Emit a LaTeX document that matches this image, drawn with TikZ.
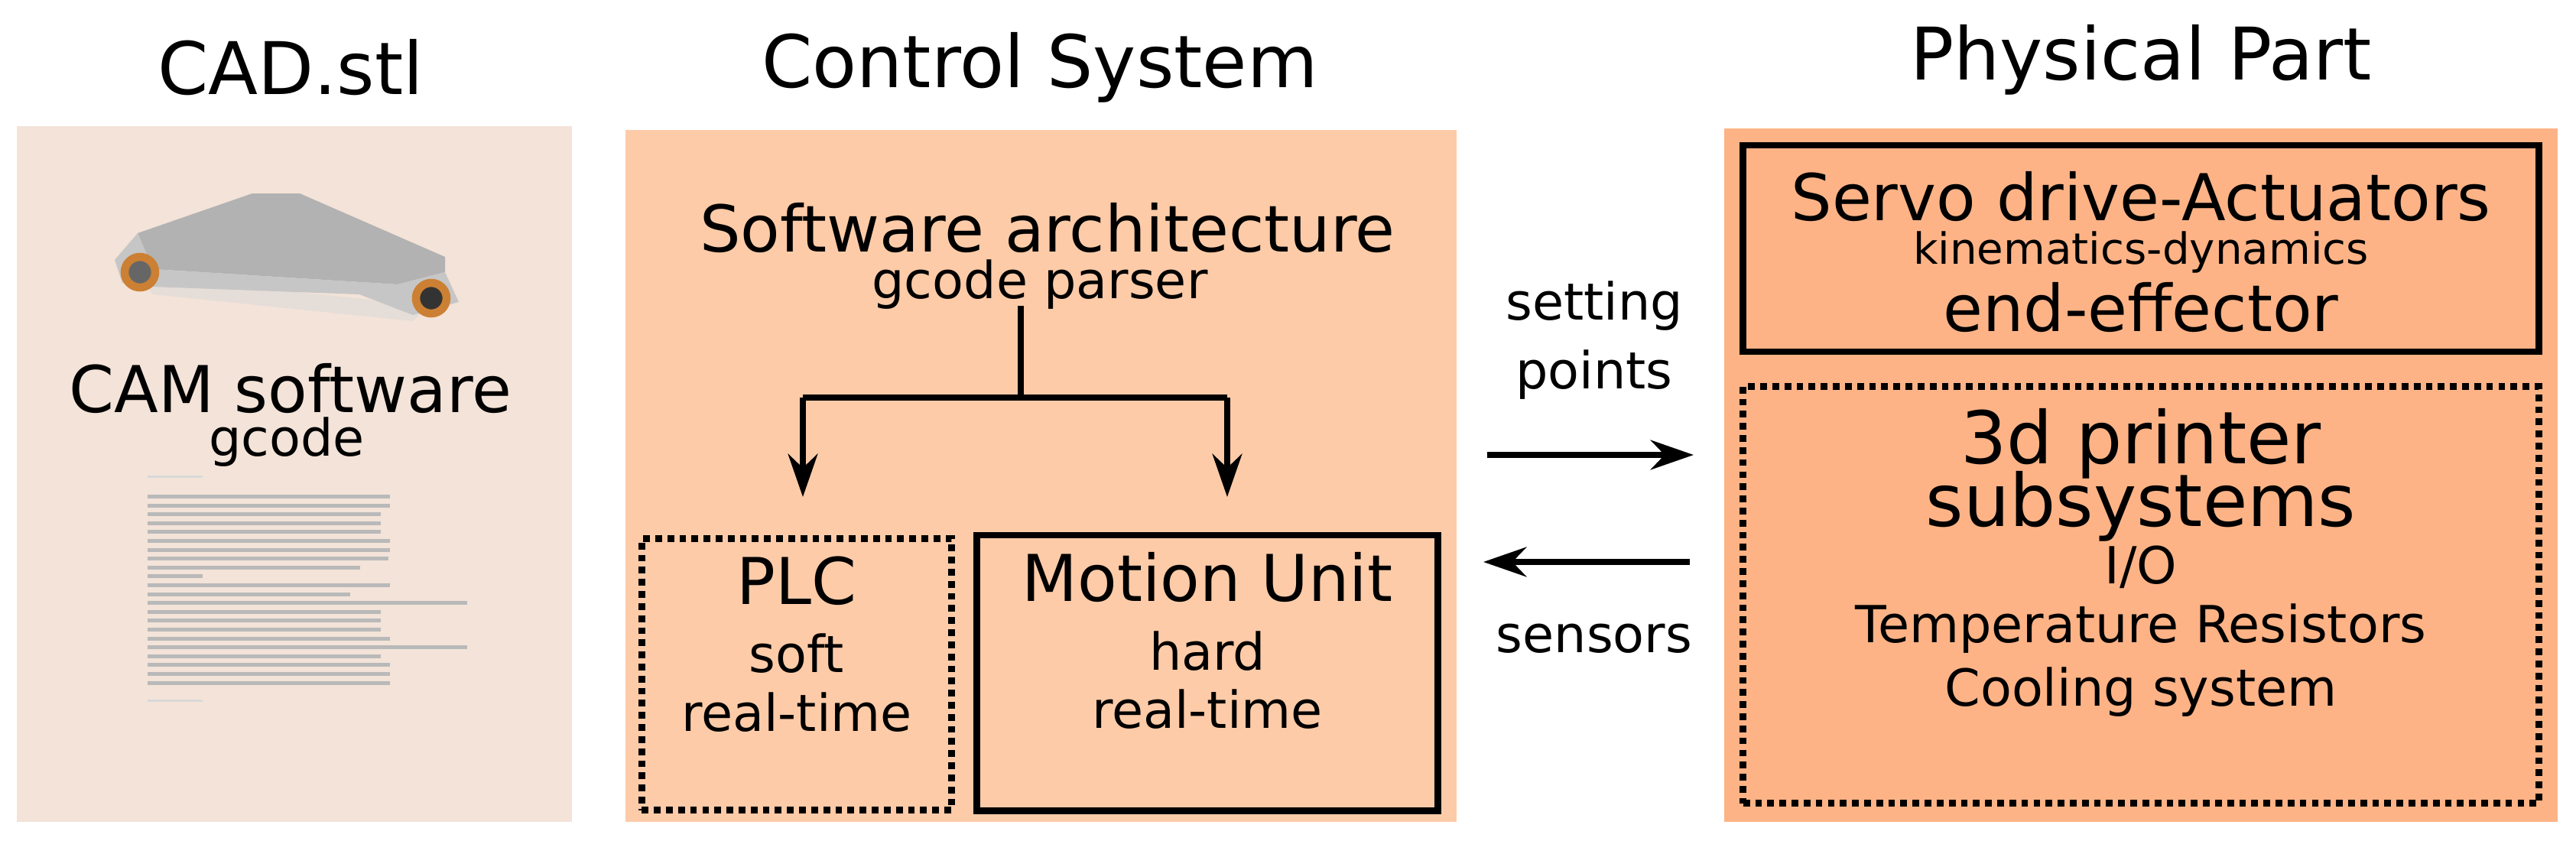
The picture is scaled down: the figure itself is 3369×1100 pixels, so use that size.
\documentclass[tikz,border=0pt]{standalone}
\usepackage{fontspec}
\setmainfont{DejaVu Sans}
\usetikzlibrary{arrows.meta}
\definecolor{pA}{HTML}{F3E3D8}
\definecolor{pB}{HTML}{FDCBA8}
\definecolor{pC}{HTML}{FDB386}
\begin{document}
\begin{tikzpicture}[x=0.01cm,y=-0.01cm,
  big/.style={font=\fontsize{24}{26}\selectfont,inner sep=0pt},
  mid/.style={font=\fontsize{19}{21}\selectfont,inner sep=0pt},
  sml/.style={font=\fontsize{16}{18}\selectfont,inner sep=0pt},
  ttl/.style={font=\fontsize{27}{30}\selectfont,inner sep=0pt},
  arr/.style={line width=2.2pt,-{Stealth[length=16pt,width=11pt]}},
  box/.style={draw,line width=2.5pt,inner sep=0pt},
  dbox/.style={draw,line width=2.5pt,dotted,inner sep=0pt}]
\useasboundingbox (0,0) rectangle (3369,1100);
\fill[white] (0,0) rectangle (3369,1100);
% panels
\fill[pA] (22,165) rectangle (748,1075);
\fill[pB] (818,170) rectangle (1905,1075);
\fill[pC] (2255,168) rectangle (3345,1075);
% titles
\node[ttl] (t1) at (380,88) {CAD.stl};
\node[ttl] (t2) at (1360,88) {Control System};
\node[ttl] (t3) at (2800,78) {Physical Part};
% car
\fill[gray!30,opacity=0.5] (180,360) -- (560,400) -- (540,420) -- (200,385) -- cycle;
\fill[gray!60] (180,305) -- (330,253) -- (392,253) -- (582,336) -- (582,356) -- (520,372) -- (200,352) -- cycle;
\fill[gray!45] (150,340) -- (180,305) -- (200,352) -- (520,372) -- (582,356) -- (600,395) -- (540,412) -- (470,385) -- (200,375) -- (160,370) -- cycle;
\draw[brown!80!orange,line width=3pt,fill=gray!80!black] (183,356) circle (20);
\draw[brown!80!orange,line width=3pt,fill=black!80] (564,390) circle (20);
% CAM text
\node[big] (cam) at (380,508) {CAM software};
\node[mid] (gc) at (375,578) {gcode};
% gcode lines
\foreach \i/\w in {0/317,1/317,2/305,3/305,4/305,5/317,6/317,7/315,8/278,10/317,11/265,12/418,13/305,14/305,15/305,16/317,17/418,18/305,19/317,20/317,21/317}
  \fill[gray!55] (193,{647+\i*11.6}) rectangle ({193+\w},{652+\i*11.6});
\fill[gray!55] (193,{647+9*11.6}) rectangle (265,{652+9*11.6});
\fill[gray!30] (193,622) rectangle (265,625);
\fill[gray!30] (193,915) rectangle (265,918);
% control system
\node[big] (sa) at (1370,298) {Software architecture};
\node[mid] (gp) at (1360,372) {gcode parser};
\node[dbox,minimum width=4.05cm,minimum height=3.55cm] (plc) at (1042,882) {};
\node[box,minimum width=6.02cm,minimum height=3.6cm] (mu) at (1579,880) {};
\node[big] (plct) at (1042,760) {PLC};
\node[mid] (plc1) at (1042,855) {soft};
\node[mid] (plc2) at (1042,932) {real-time};
\node[big] (mut) at (1579,755) {Motion Unit};
\node[mid] (mu1) at (1579,852) {hard};
\node[mid] (mu2) at (1579,928) {real-time};
\coordinate (s0) at (1335,400);
\coordinate (s1) at (1335,520);
\coordinate (sl) at (1050,520);
\coordinate (sr) at (1605,520);
\coordinate (el) at (1050,650);
\coordinate (er) at (1605,650);
\draw[line width=2.2pt] (s0) -- (s1);
\draw[line width=2.2pt] (sl) -- (sr);
\draw[arr] (sl) -- (el);
\draw[arr] (sr) -- (er);
% arrows
\node[mid] (sp1) at (2085,400) {setting};
\node[mid] (sp2) at (2085,490) {points};
\node[mid] (sen) at (2085,835) {sensors};
\coordinate (a1) at (1945,595);
\coordinate (a2) at (2215,595);
\coordinate (b1) at (2210,735);
\coordinate (b2) at (1940,735);
\draw[arr] (a1) -- (a2);
\draw[arr] (b1) -- (b2);
% physical
\node[box,minimum width=10.4cm,minimum height=2.7cm] (sv) at (2800,325) {};
\node[big] (sv1) at (2800,257) {Servo drive-Actuators};
\node[sml] (sv2) at (2800,330) {kinematics-dynamics};
\node[big] (sv3) at (2800,402) {end-effector};
\node[dbox,minimum width=10.4cm,minimum height=5.45cm] (pr) at (2800,778) {};
\node[ttl] (pr1) at (2800,580) {3d printer};
\node[ttl] (pr2) at (2800,662) {subsystems};
\node[mid] (pr3) at (2800,742) {I/O};
\node[mid] (pr4) at (2800,822) {Temperature Resistors};
\node[mid] (pr5) at (2800,905) {Cooling system};
\end{tikzpicture}
\end{document}
